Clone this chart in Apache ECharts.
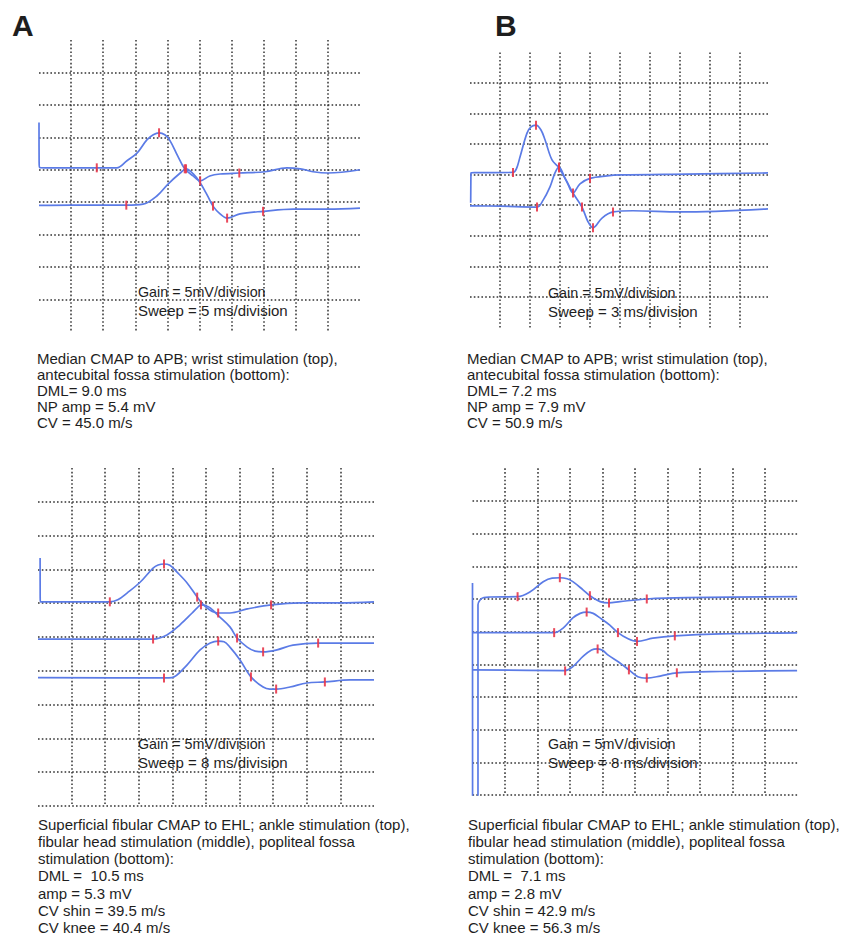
<!DOCTYPE html>
<html>
<head>
<meta charset="utf-8">
<script src="https://cdn.jsdelivr.net/npm/echarts@6/dist/echarts.min.js"></script>
<style>
  html, body { margin: 0; padding: 0; background: #ffffff; }
  #chart { width: 843px; height: 936px; }
</style>
</head>
<body>
<div id="chart"></div>
<script>
// ---------------- DATA ----------------
// Panel A: median CMAP, sweep 5 ms/div, gain 5 mV/div  [time ms, mV]
const panelA_sweep = 5;
const panelA_wrist = [[0,7.3],[0.02,1.2],[0.1,0.34],[1,0.3],[9,0.3],[12.1,0.3],[13.7,1.4],[15.3,2.6],[16.8,4.6],[17.8,5.4],[18.7,5.7],[19.6,5.4],[20.4,4.5],[21.6,2.15],[22.7,0.15],[24.0,-0.95],[25.1,-1.7],[26.6,-0.95],[28.2,-0.65],[31.2,-0.5],[35.2,-0.3],[38.6,0.3],[40.7,0.15],[42.7,-0.3],[45,-0.5],[50,0]];
const panelA_elbow = [[0,-5.5],[5,-5.45],[13.6,-5.45],[16.2,-5.3],[18.4,-4.0],[20.1,-2.2],[22.0,-0.5],[22.9,0.15],[24.0,-0.6],[25.1,-2.0],[26.2,-3.9],[27.1,-5.6],[28.2,-6.8],[29.3,-7.45],[31.3,-6.8],[34.9,-6.4],[39.6,-6.05],[45,-6.05],[50,-5.9]];
const panelA_marks = [[9.0,0.3],[18.7,5.7],[22.7,0.15],[25.1,-1.7],[31.2,-0.5],[13.6,-5.45],[22.9,0.15],[27.1,-5.6],[29.3,-7.45],[34.9,-6.4]];

// Panel B: median CMAP, sweep 3 ms/div
const panelB_sweep = 3;
const panelB_wrist = [[0.07,-4.6],[0.09,-0.5],[0.1,0.28],[0.5,0.33],[4.3,0.36],[4.65,1.0],[5.0,2.9],[5.7,6.8],[6.1,7.8],[6.6,8.1],[7.1,7.3],[7.5,5.7],[8.2,2.4],[8.9,1.1],[9.7,-1.2],[10.3,-3.0],[11.0,-1.5],[12.0,-0.6],[13.7,-0.2],[15.0,-0.05],[21.7,0.1],[29.8,0.28]];
const panelB_elbow = [[0,-5.1],[3,-5.15],[6.7,-5.3],[7.3,-4.2],[8.0,-2.0],[8.5,0.3],[8.9,1.25],[9.5,-0.55],[10.3,-3.0],[11.2,-5.3],[11.8,-7.7],[12.3,-8.7],[13.2,-7.1],[14.3,-6.1],[16.3,-5.9],[21.0,-6.1],[29.8,-5.6]];
const panelB_marks = [[4.3,0.36],[6.6,8.1],[8.9,1.1],[10.3,-3.0],[12.0,-0.6],[6.7,-5.3],[8.9,1.25],[11.2,-5.3],[12.3,-8.7],[14.3,-6.1]];

// Panel C: superficial fibular CMAP, sweep 8 ms/div
const panelC_sweep = 8;
const panelC_ankle = [[0.5,6.7],[0.52,1.0],[0.55,0.2],[1.5,0.2],[17.1,0.2],[19,0.5],[21.2,1.5],[24.3,3.1],[27.4,5.2],[28.6,5.65],[30.0,5.8],[31.4,5.6],[33.1,4.6],[35.5,3.0],[37.9,0.9],[39.0,0],[40.9,-1.0],[42.9,-1.45],[45.7,-1.45],[49.8,-0.85],[55.5,-0.25],[62.4,0.05],[71.9,0.05],[80,0.2]];
const panelC_head = [[0,-5.3],[27.4,-5.3],[30.7,-4.7],[33.8,-3.2],[36.7,-1.45],[37.9,-0.7],[38.8,-0.25],[39.8,-0.35],[41.0,-0.7],[43.3,-2.05],[45.7,-3.5],[47.4,-5.15],[49.8,-6.5],[51.7,-7.1],[53.6,-7.2],[56.9,-6.9],[60.7,-6.2],[66.7,-5.9],[80,-5.9]];
const panelC_fossa = [[0,-11.0],[30,-11.05],[31.9,-11.0],[35,-9.45],[38.6,-6.9],[41,-5.9],[42.9,-5.6],[44.3,-5.7],[45.7,-6.5],[48.1,-8.4],[50.7,-10.9],[53.6,-12.4],[55.2,-12.7],[56.7,-12.7],[60,-12.4],[64,-11.8],[68.3,-11.65],[74.3,-11.35],[80,-11.35]];
const panelC_marks = [[17.1,0.2],[30.0,5.8],[37.9,0.9],[42.9,-1.45],[55.5,-0.25],[27.4,-5.3],[38.8,-0.25],[47.4,-5.15],[53.6,-7.2],[66.7,-5.9],[30,-11.05],[42.9,-5.6],[50.7,-10.9],[56.7,-12.7],[68.3,-11.65]];

// Panel D: superficial fibular CMAP, sweep 8 ms/div
const panelD_sweep = 8;
const panelD_ankle = [[0,2.45],[0.01,-10],[0.02,-30.5],[0.7,-30.5],[1.35,-30.5],[1.35,-10],[1.35,-0.9],[1.85,-0.15],[2.8,0.23],[4.3,0.3],[11.1,0.35],[14.2,1.1],[17.4,2.65],[19.6,3.2],[21.5,3.25],[23.3,3.1],[24.7,2.65],[27.2,1.4],[28.9,0.5],[31.4,-0.4],[33.6,-0.6],[36.3,-0.4],[42.9,0],[52.7,0.2],[79.9,0.35]];
const panelD_head = [[0,-5.15],[20.1,-5.15],[22.3,-4.45],[24.7,-2.9],[26.5,-2.2],[28.1,-2.0],[29.7,-2.2],[31.4,-2.9],[33.8,-4.0],[35.8,-5.15],[38.3,-6.1],[40.5,-6.5],[44.4,-6.0],[49.8,-5.65],[60.9,-5.35],[79.9,-5.2]];
const panelD_fossa = [[0,-10.85],[22.8,-10.95],[24.7,-10.35],[27.2,-8.8],[29.3,-7.8],[30.8,-7.65],[32.1,-7.9],[33.4,-8.6],[36.3,-9.8],[38.5,-10.85],[40.7,-11.9],[42.9,-12.1],[46.2,-11.8],[50.3,-11.3],[60.9,-11.1],[79.9,-10.95]];
const panelD_marks = [[11.1,0.35],[21.5,3.25],[28.9,0.5],[33.6,-0.6],[42.9,0],[20.1,-5.15],[28.1,-2.0],[35.8,-5.15],[40.5,-6.5],[49.8,-5.65],[22.8,-11.0],[30.8,-7.65],[38.5,-10.85],[42.9,-12.1],[50.3,-11.3]];

// Texts
const panelLetters = ['A', 'B'];
const gainLabel = 'Gain = 5mV/division';
const sweepLabels = ['Sweep = 5 ms/division', 'Sweep = 3 ms/division', 'Sweep = 8 ms/division', 'Sweep = 8 ms/division'];
const captionA = ['Median CMAP to APB; wrist stimulation (top),', 'antecubital fossa stimulation (bottom):', 'DML= 9.0 ms', 'NP amp = 5.4 mV', 'CV = 45.0 m/s'];
const captionB = ['Median CMAP to APB; wrist stimulation (top),', 'antecubital fossa stimulation (bottom):', 'DML= 7.2 ms', 'NP amp = 7.9 mV', 'CV = 50.9 m/s'];
const captionC = ['Superficial fibular CMAP to EHL; ankle stimulation (top),', 'fibular head stimulation (middle), popliteal fossa', 'stimulation (bottom):', 'DML =  10.5 ms', 'amp = 5.3 mV', 'CV shin = 39.5 m/s', 'CV knee = 40.4 m/s'];
const captionD = ['Superficial fibular CMAP to EHL; ankle stimulation (top),', 'fibular head stimulation (middle), popliteal fossa', 'stimulation (bottom):', 'DML =  7.1 ms', 'amp = 2.8 mV', 'CV shin = 42.9 m/s', 'CV knee = 56.3 m/s'];

// ---------------- CHART ----------------
const FONT = "'Liberation Sans', Arial, Helvetica, sans-serif";
const TRACE = '#5b7be6';
const MARK = '#e8364a';
const gridLine = { color: '#333333', width: 1.5, type: [1.6, 2.2] };

const grids = [
  { left: 39, top: 40, width: 321, height: 292 },
  { left: 470, top: 52.4, width: 300, height: 275.1 },
  { left: 38, top: 468, width: 336, height: 338 },
  { left: 472.5, top: 468.3, width: 325, height: 326.7 }
];
const sweeps = [panelA_sweep, panelB_sweep, panelC_sweep, panelD_sweep];
const yRanges = [[-25, 20], [-25, 20], [-30, 20], [-30, 20]];

const xAxes = sweeps.map((s, i) => ({
  type: 'value', gridIndex: i, min: 0, max: s * 10, interval: s,
  axisLine: { show: false }, axisTick: { show: false }, axisLabel: { show: false },
  splitLine: { show: true, showMinLine: false, showMaxLine: false, lineStyle: gridLine }
}));
const yAxes = yRanges.map((r, i) => ({
  type: 'value', gridIndex: i, min: r[0], max: r[1], interval: 5,
  axisLine: { show: false }, axisTick: { show: false }, axisLabel: { show: false },
  splitLine: { show: true, showMinLine: i >= 2, showMaxLine: false, lineStyle: gridLine }
}));

function trace(data, i) {
  return {
    type: 'line', xAxisIndex: i, yAxisIndex: i, data: data,
    showSymbol: false, smooth: 0.35, animation: false, z: 3,
    lineStyle: { color: TRACE, width: 1.7 }
  };
}
function marks(data, i) {
  return {
    type: 'scatter', xAxisIndex: i, yAxisIndex: i, data: data,
    symbol: 'rect', symbolSize: [2, 9], animation: false, z: 4,
    itemStyle: { color: MARK, opacity: 0.9 }
  };
}

const series = [
  trace(panelA_wrist, 0), trace(panelA_elbow, 0), marks(panelA_marks, 0),
  trace(panelB_wrist, 1), trace(panelB_elbow, 1), marks(panelB_marks, 1),
  trace(panelC_ankle, 2), trace(panelC_head, 2), trace(panelC_fossa, 2), marks(panelC_marks, 2),
  trace(panelD_ankle, 3), trace(panelD_head, 3), trace(panelD_fossa, 3), marks(panelD_marks, 3)
];

function txt(text, x, y, size, weight) {
  return {
    type: 'text', x: x, y: y, z: 10,
    style: { text: text, font: (weight || 'normal') + ' ' + size + 'px ' + FONT, fill: '#1e1e1e', verticalAlign: 'middle', align: 'left' }
  };
}
const graphic = [];
graphic.push(txt(panelLetters[0], 12, 25, 30, 'bold'));
graphic.push(txt(panelLetters[1], 495, 25, 30, 'bold'));
const gainPos = [[138, 291.5], [548, 292.5], [138, 743.5], [548, 743.5]];
gainPos.forEach((p, i) => {
  graphic.push(txt(gainLabel, p[0], p[1], 14.3));
  graphic.push(txt(sweepLabels[i], p[0], p[1] + 19, 15));
});
captionA.forEach((t, k) => graphic.push(txt(t, 37, 358.5 + k * 16, 15)));
captionB.forEach((t, k) => graphic.push(txt(t, 467, 358.5 + k * 16, 15)));
captionC.forEach((t, k) => graphic.push(txt(t, 38, 824 + k * 17.3, 15)));
captionD.forEach((t, k) => graphic.push(txt(t, 468, 824 + k * 17.3, 15)));

const chart = echarts.init(document.getElementById('chart'), null, { renderer: 'svg' });
chart.setOption({
  backgroundColor: '#ffffff',
  animation: false,
  grid: grids,
  xAxis: xAxes,
  yAxis: yAxes,
  series: series,
  graphic: graphic
});
</script>
</body>
</html>
